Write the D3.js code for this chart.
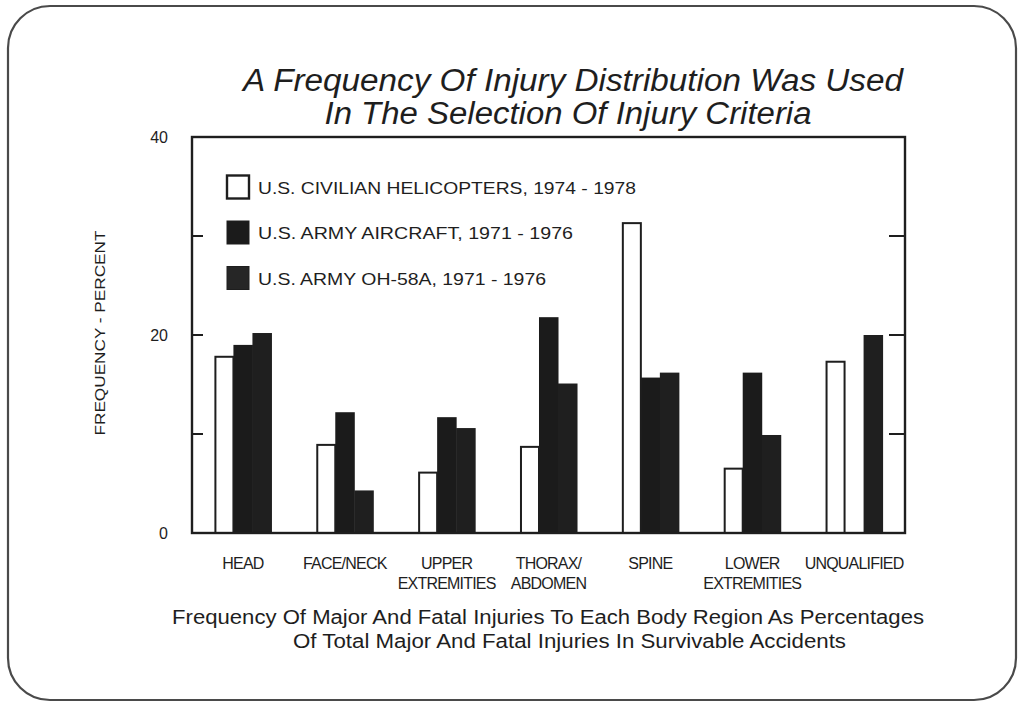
<!DOCTYPE html>
<html>
<head>
<meta charset="utf-8">
<script src="https://cdn.jsdelivr.net/npm/d3@7"></script>
<style>
  html, body { margin: 0; padding: 0; background: #fff; }
  svg { display: block; }
  text { font-family: "Liberation Sans", Arial, sans-serif; fill: #1e1e1e; }
</style>
</head>
<body>
<svg id="chart" width="1018" height="705"></svg>
<script>
// Body regions (x categories)
const regions = ["HEAD", "FACE/NECK", "UPPER|EXTREMITIES", "THORAX/|ABDOMEN", "SPINE", "LOWER|EXTREMITIES", "UNQUALIFIED"];

// Percent of major and fatal injuries per body region
const civilianHelicopters = [17.8, 8.9, 6.1, 8.7, 31.3, 6.5, 17.3];
const armyAircraft       = [19.0, 12.2, 11.7, 21.8, 15.7, 16.2, null];
const armyOH58A          = [20.2, 4.3, 10.6, 15.1, 16.2, 9.9, 20.0];

const seriesNames = [
  "U.S. CIVILIAN HELICOPTERS,  1974 - 1978",
  "U.S. ARMY AIRCRAFT,  1971 - 1976",
  "U.S. ARMY OH-58A,  1971 - 1976"
];
const legendWidths = [378, 315, 288];
const yTickValues = [0, 10, 20, 30, 40];
const yTickLabels = ["0", "", "20", "", "40"];

const titleLines = ["A Frequency Of Injury Distribution Was Used", "In The Selection Of Injury Criteria"];
const titleWidths = [660, 487];
const captionLines = [
  "Frequency Of Major And Fatal Injuries To Each Body Region As Percentages",
  "Of Total Major And Fatal Injuries In Survivable Accidents"
];
const captionWidths = [752, 553];

const svg = d3.select("#chart");
const ink = "#1e1e1e";

// Slide border
svg.append("rect")
  .attr("x", 8).attr("y", 6)
  .attr("width", 1008).attr("height", 694)
  .attr("rx", 42).attr("ry", 42)
  .attr("fill", "#fff")
  .attr("stroke", "#4a4a4a").attr("stroke-width", 2.2);

// Title
svg.append("g").selectAll("text").data(titleLines).join("text")
  .attr("x", (d, i) => i === 0 ? 573 : 568).attr("y", (d, i) => 91 + i * 33)
  .attr("text-anchor", "middle")
  .attr("font-size", 31).attr("font-style", "italic")
  .attr("textLength", (d, i) => titleWidths[i])
  .attr("lengthAdjust", "spacingAndGlyphs")
  .attr("fill", "#2a2a2a")
  .text(d => d);

const plot = { left: 192, right: 905, top: 137, bottom: 533 };

const x = d3.scaleBand()
  .domain(d3.range(regions.length))
  .range([plot.left, plot.right])
  .paddingInner(0.44)
  .paddingOuter(0.22);

const sub = d3.scaleBand()
  .domain([0, 1, 2])
  .range([0, x.bandwidth()]);

const y = d3.scaleLinear().domain([0, 40]).range([plot.bottom, plot.top]);

// Bars
const series = [civilianHelicopters, armyAircraft, armyOH58A];
const barData = [];
series.forEach((vals, s) => vals.forEach((v, i) => {
  if (v != null) barData.push({ s, i, v });
}));

// Dark bars first, open bars drawn on top so their outlines stay visible
const barsG = svg.append("g");
barsG.selectAll("rect.dark").data(barData.filter(d => d.s > 0)).join("rect")
  .attr("class", "dark")
  .attr("x", d => x(d.i) + sub(d.s))
  .attr("y", d => y(d.v))
  .attr("width", sub.bandwidth() + 0.5)
  .attr("height", d => y(0) - y(d.v))
  .attr("fill", d => d.s === 1 ? "#1b1b1b" : "#1f1f1f");

barsG.selectAll("rect.open").data(barData.filter(d => d.s === 0)).join("rect")
  .attr("class", "open")
  .attr("x", d => x(d.i) + sub(d.s) + 1)
  .attr("y", d => y(d.v))
  .attr("width", sub.bandwidth() - 1)
  .attr("height", d => y(0) - y(d.v))
  .attr("fill", "#fff")
  .attr("stroke", ink).attr("stroke-width", 2);

// Plot frame
svg.append("rect")
  .attr("x", plot.left).attr("y", plot.top)
  .attr("width", plot.right - plot.left).attr("height", plot.bottom - plot.top)
  .attr("fill", "none").attr("stroke", ink).attr("stroke-width", 2.4);

// Left axis labels at 0, 20, 40
const leftAxis = d3.axisLeft(y)
  .tickValues(yTickValues)
  .tickSize(0)
  .tickPadding(24)
  .tickFormat((d, i) => yTickLabels[i]);
const gl = svg.append("g").attr("transform", `translate(${plot.left},0)`).call(leftAxis);
gl.select(".domain").remove();
gl.selectAll("text").attr("font-size", 16).attr("fill", "#333")
  .attr("font-family", "Liberation Sans, Arial, sans-serif");

// Inward tick marks on both sides
const innerTicks = yTickValues.filter(v => v > 0 && v < 40);
svg.append("g").selectAll("line").data(innerTicks).join("line")
  .attr("x1", plot.left).attr("x2", plot.left + 11)
  .attr("y1", d => y(d)).attr("y2", d => y(d))
  .attr("stroke", ink).attr("stroke-width", 2);
svg.append("g").selectAll("line").data(innerTicks).join("line")
  .attr("x1", plot.right).attr("x2", plot.right - 16)
  .attr("y1", d => y(d)).attr("y2", d => y(d))
  .attr("stroke", ink).attr("stroke-width", 2);

// Y axis title
svg.append("text")
  .attr("transform", "translate(105,333) rotate(-90)")
  .attr("text-anchor", "middle")
  .attr("font-size", 15)
  .attr("textLength", 205)
  .attr("lengthAdjust", "spacingAndGlyphs")
  .attr("fill", "#333")
  .text("FREQUENCY - PERCENT");

// Category labels
const catG = svg.append("g");
regions.forEach((r, i) => {
  const lines = r.split("|");
  const t = catG.append("text")
    .attr("text-anchor", "middle")
    .attr("font-size", 16)
    .attr("letter-spacing", -0.8)
    .attr("fill", "#222");
  lines.forEach((ln, k) => {
    t.append("tspan")
      .attr("x", x(i) + x.bandwidth() / 2)
      .attr("y", 569 + k * 20)
      .text(ln);
  });
});

// Legend
const legend = svg.append("g");
seriesNames.forEach((name, s) => {
  const cy = 187 + s * 45.5;
  legend.append("rect")
    .attr("x", 227).attr("y", cy - 11.5)
    .attr("width", 22).attr("height", 23)
    .attr("fill", s === 0 ? "#fff" : (s === 1 ? "#1b1b1b" : "#262626"))
    .attr("stroke", ink).attr("stroke-width", s === 0 ? 2.4 : 1);
  legend.append("text")
    .attr("x", 258).attr("y", cy + 6.5)
    .attr("font-size", 16.5)
    .attr("textLength", legendWidths[s])
    .attr("lengthAdjust", "spacingAndGlyphs")
    .attr("fill", "#2a2a2a")
    .text(name);
});

// Caption
svg.append("g").selectAll("text").data(captionLines).join("text")
  .attr("x", (d, i) => i === 0 ? 548 : 569.5).attr("y", (d, i) => 624 + i * 24)
  .attr("text-anchor", "middle")
  .attr("font-size", 19.5)
  .attr("textLength", (d, i) => captionWidths[i])
  .attr("lengthAdjust", "spacingAndGlyphs")
  .attr("fill", "#2a2a2a")
  .text(d => d);
</script>
</body>
</html>
